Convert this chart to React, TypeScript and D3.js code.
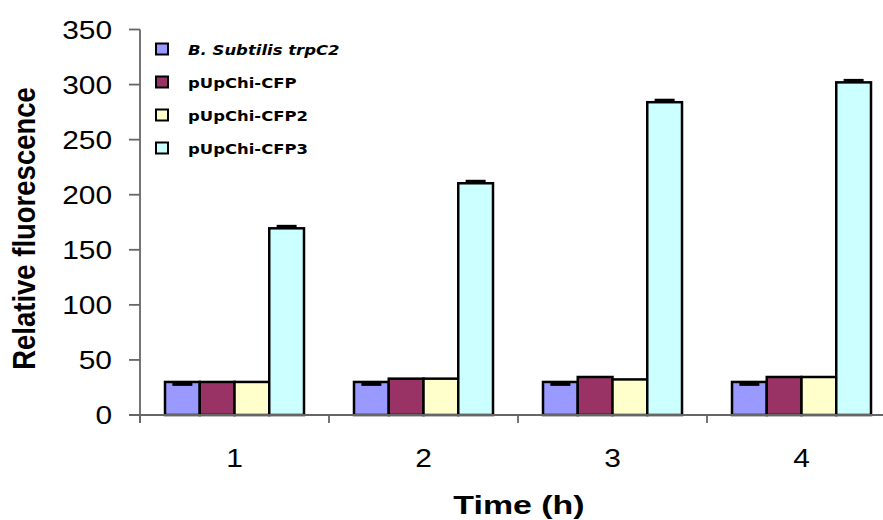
import React from "react";
import * as d3 from "d3";

const categories = ["1", "2", "3", "4"];
const seriesNames = ["B. Subtilis trpC2", "pUpChi-CFP", "pUpChi-CFP2", "pUpChi-CFP3"];
const seriesColors = ["#9999FF", "#993366", "#FFFFCC", "#CCFFFF"];
const subtilis = [30, 30, 30, 30];
const cfp = [30, 33, 34.5, 34.5];
const cfp2 = [30, 33, 32.3, 34.5];
const cfp3 = [169.5, 210.4, 284, 302];
const seriesValues = [subtilis, cfp, cfp2, cfp3];
// error: negative = drawn below, positive = drawn above
const seriesErrors = [[-2.2, -2.2, -2.2, -2.2], [0, 0, 0, 0], [0, 0, 0, 0], [1.8, 1.8, 1.8, 1.8]];
const yTicks = [0, 50, 100, 150, 200, 250, 300, 350];

const W = 883;
const H = 520;

export default function App() {
  const x0 = d3.scaleBand<string>().domain(categories).range([140, 896]).paddingInner(0).paddingOuter(0);
  const bw = x0.bandwidth();
  const x1 = d3.scaleBand<number>().domain([0, 1, 2, 3]).range([25, bw - 25]).padding(0);
  const y = d3.scaleLinear().domain([0, 350]).range([415, 29.5]);
  const axisColor = "#666666";
  const boundaries = categories.map((c) => x0(c)!).concat([x0(categories[categories.length - 1])! + bw]);

  return (
    <svg width={W} height={H} style={{ position: "absolute", left: 0, top: 0, background: "#fff" }}>
      {/* bars */}
      {categories.map((c, ci) => (
        <g key={c}>
          {seriesValues.map((vals, si) => {
            const bx = x0(c)! + x1(si)!;
            const v = vals[ci];
            return (
              <rect key={si} x={bx} y={y(v)} width={x1.bandwidth()} height={y(0) - y(v)}
                fill={seriesColors[si]} stroke="#000" strokeWidth={2.5} />
            );
          })}
          {seriesValues.map((vals, si) => {
            const e = seriesErrors[si][ci];
            if (!e) return null;
            const cx = x0(c)! + x1(si)! + x1.bandwidth() / 2;
            const v = vals[ci];
            return (
              <g key={"e" + si}>
                <line x1={cx} x2={cx} y1={y(v)} y2={y(v + e)} stroke="#000" strokeWidth={1.5} />
                <line x1={cx - 10} x2={cx + 10} y1={y(v + e)} y2={y(v + e)} stroke="#000" strokeWidth={3} />
              </g>
            );
          })}
        </g>
      ))}

      {/* axes */}
      <line x1={140} x2={140} y1={y(350)} y2={423} stroke={axisColor} strokeWidth={1.8} />
      <line x1={129} x2={W} y1={y(0)} y2={y(0)} stroke={axisColor} strokeWidth={1.8} />
      {yTicks.map((t) => (
        <g key={t}>
          <line x1={129} x2={140} y1={y(t)} y2={y(t)} stroke={axisColor} strokeWidth={1.8} />
          <text transform={`translate(112,${y(t) + 9}) scale(1.15,1)`} textAnchor="end"
            fontFamily="'Liberation Sans', Arial, sans-serif" fontSize={26} fill="#000">{t}</text>
        </g>
      ))}
      {boundaries.map((b, i) => (
        <line key={i} x1={b} x2={b} y1={y(0)} y2={423} stroke={axisColor} strokeWidth={1.8} />
      ))}
      {categories.map((c) => (
        <text key={c} transform={`translate(${x0(c)! + bw / 2},467) scale(1.15,1)`} textAnchor="middle"
          fontFamily="'Liberation Sans', Arial, sans-serif" fontSize={26} fill="#000">{c}</text>
      ))}

      {/* axis titles */}
      <text transform="translate(519,513.5) scale(1.33,1)" textAnchor="middle"
        fontFamily="'Liberation Sans', Arial, sans-serif" fontSize={25.5} fontWeight="bold" fill="#000">Time (h)</text>
      <text transform="translate(35,228.5) scale(1.15,1) rotate(-90)" textAnchor="middle"
        fontFamily="'Liberation Sans', Arial, sans-serif" fontSize={27.5} fontWeight="bold" fill="#000">Relative fluorescence</text>

      {/* legend */}
      {seriesNames.map((n, i) => {
        const cy = 49 + i * 33;
        return (
          <g key={n}>
            <rect x={156} y={cy - 5.5} width={12} height={11} fill={seriesColors[i]} stroke="#000" strokeWidth={2} />
            <text transform={`translate(188,${cy + 5.5}) scale(1.22,1)`}
              fontFamily="'DejaVu Sans', Verdana, sans-serif" fontSize={13.5} fontWeight="bold"
              fontStyle={i === 0 ? "italic" : "normal"} fill="#000">{n}</text>
          </g>
        );
      })}
    </svg>
  );
}
